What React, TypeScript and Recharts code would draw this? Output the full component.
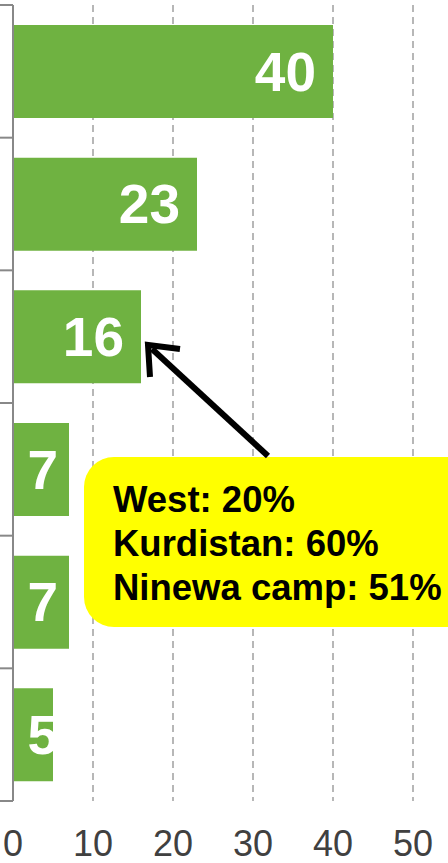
import React from "react";
import { BarChart, Bar, XAxis, YAxis, CartesianGrid, LabelList } from "recharts";

const categories = ["Item 1", "Item 2", "Item 3", "Item 4", "Item 5", "Item 6"];
const values = [40, 23, 16, 7, 7, 5];
const xTicks = [0, 10, 20, 30, 40, 50];
const calloutLines = ["West: 20%", "Kurdistan: 60%", "Ninewa camp: 51%"];

const data = categories.map((name, i) => ({ name, value: values[i] }));

const FONT = "'Liberation Sans', Arial, sans-serif";
const BAND = 796 / categories.length;

const BarValue = (props: any) => {
  const { x, y, width, height, value } = props;
  const right = Math.max(x + width - 17, 58);
  return (
    <text
      x={right}
      y={y + height / 2 + 19}
      textAnchor="end"
      fill="#ffffff"
      fontSize={55}
      fontWeight="bold"
      fontFamily={FONT}
    >
      {value}
    </text>
  );
};

// tick marks sit on the band boundaries, not the band centres
const BoundaryTick = (props: any) => {
  const { x, y, index } = props;
  const top = y - BAND / 2;
  return (
    <g>
      <line x1={x - 13} x2={x} y1={top} y2={top} stroke="#888" strokeWidth={2} />
      {index === categories.length - 1 && (
        <line x1={x - 13} x2={x} y1={top + BAND} y2={top + BAND} stroke="#888" strokeWidth={2} />
      )}
    </g>
  );
};

export default function App() {
  return (
    <div
      style={{
        position: "absolute",
        left: 0,
        top: 0,
        width: 448,
        height: 863,
        overflow: "hidden",
        background: "#fff",
      }}
    >
      <BarChart
        width={540}
        height={863}
        data={data}
        layout="vertical"
        margin={{ top: 5, right: 47, left: 0, bottom: 0 }}
      >
        <CartesianGrid
          horizontal={false}
          stroke="#a0a0a0"
          strokeWidth={1.5}
          strokeDasharray="7 5"
        />
        <XAxis
          type="number"
          domain={[0, 60]}
          ticks={xTicks}
          axisLine={false}
          tickLine={false}
          tickSize={0}
          tickMargin={29}
          height={62}
          interval={0}
          tick={{ fontSize: 36, fill: "#404040", fontFamily: FONT }}
        />
        <YAxis
          type="category"
          dataKey="name"
          width={13}
          axisLine={{ stroke: "#888888", strokeWidth: 2 }}
          tickLine={false}
          tickSize={0}
          tickMargin={0}
          tick={<BoundaryTick />}
          interval={0}
        />
        <Bar dataKey="value" fill="#6fb241" barSize={93} isAnimationActive={false}>
          <LabelList dataKey="value" content={<BarValue />} />
        </Bar>
      </BarChart>
      <svg
        width={448}
        height={863}
        style={{ position: "absolute", left: 0, top: 0, pointerEvents: "none" }}
      >
        <rect x={84} y={457} width={420} height={170} rx={30} ry={30} fill="#ffff00" />
        <line x1={268} y1={456} x2={152} y2={349} stroke="#000" strokeWidth={6} />
        <polyline
          points="150,377 148,345 180,349"
          fill="none"
          stroke="#000"
          strokeWidth={6}
          strokeLinejoin="miter"
        />
        {calloutLines.map((t, i) => (
          <text
            key={t}
            x={113}
            y={512 + i * 44}
            fontSize={36.5}
            fontWeight="bold"
            fontFamily={FONT}
            fill="#000"
          >
            {t}
          </text>
        ))}
      </svg>
    </div>
  );
}
